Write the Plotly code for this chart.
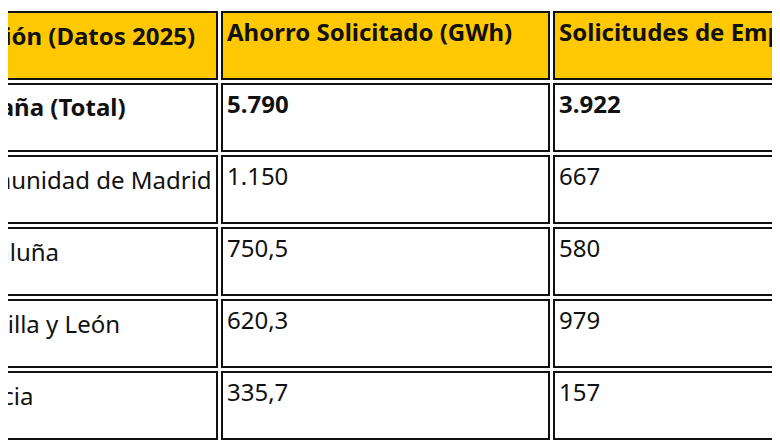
import plotly.graph_objects as go

encabezados = ["Región (Datos 2025)", "Ahorro Solicitado (GWh)", "Solicitudes de Empresas"]
regiones = ["España (Total)", "Comunidad de Madrid", "Cataluña", "Castilla y León", "Galicia"]
ahorro = ["5.790", "1.150", "750,5", "620,3", "335,7"]
solicitudes = ["3.922", "667", "580", "979", "157"]

# cell geometry (pixel-like data units)
col_x = [(-56, 209), (214, 541), (546, 1000)]
row_h = 67
gap = 5
top = 4
filas = [encabezados] + [list(f) for f in zip(regiones, ahorro, solicitudes)]

fig = go.Figure()
shapes = []
anotaciones = []
fuente = dict(family="Noto Sans", size=24, color="#111111")
for i, fila in enumerate(filas):
    y0 = top + i * (row_h + gap)
    y1 = y0 + row_h
    for j, (x0, x1) in enumerate(col_x):
        shapes.append(dict(
            type="rect", xref="x", yref="y", x0=x0, x1=x1, y0=y0, y1=y1,
            line=dict(color="#111111", width=2),
            fillcolor="#FFC800" if i == 0 else "white", layer="below",
        ))
    bold = i <= 1
    textos = [f"<b>{t}</b>" if bold else t for t in fila]
    texto_y = y0 + 23
    # first column starts left of the visible area: paper-referenced annotation
    anotaciones.append(dict(
        xref="paper", yref="paper", x=(col_x[0][0] + 5) / 780, y=1 - texto_y / 440,
        xanchor="left", yanchor="middle", text=textos[0], showarrow=False, font=fuente,
    ))
    fig.add_trace(go.Scatter(
        x=[x0 + 5 for x0, _ in col_x[1:]],
        y=[texto_y] * 2,
        mode="text",
        text=textos[1:],
        textposition="middle right",
        textfont=fuente,
        cliponaxis=False,
        hoverinfo="skip",
        showlegend=False,
    ))

fig.update_layout(
    width=780, height=440,
    margin=dict(l=0, r=0, t=0, b=0),
    paper_bgcolor="white", plot_bgcolor="white",
    shapes=shapes,
    annotations=anotaciones,
    xaxis=dict(range=[0, 780], visible=False, fixedrange=True),
    yaxis=dict(range=[440, 0], visible=False, fixedrange=True),
)
fig.write_html("out.html")
